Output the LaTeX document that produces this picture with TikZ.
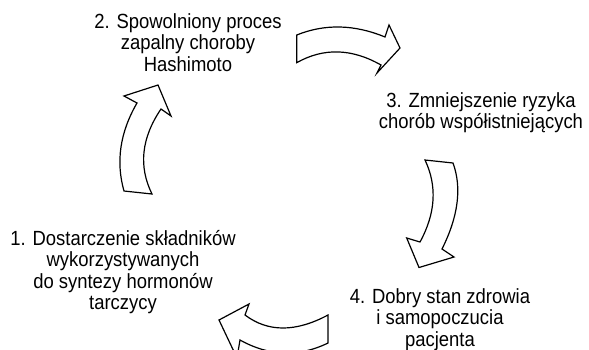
\documentclass[tikz,border=0pt]{standalone}
\usepackage{fontspec}
\setmainfont{Liberation Sans}[FakeStretch=0.9]
\usepackage{tikz}
\usetikzlibrary{calc}
\tikzset{
    stagetext/.style={
        align=center,
        anchor=north,
        inner sep=0pt,
        black,
        font=\fontsize{20.5}{21.5}\selectfont
    },
    % blokowa strzałka cyklu
    cyclearrow/.style={
        line width=1.2pt,
        black,
        fill=white,
        line join=miter
    }
}
\begin{document}
\begin{tikzpicture}[x=1pt,y=-1pt]
	\useasboundingbox (0,0) rectangle (589,349);
	\clip (0,0) rectangle (589,349);
	
	\path
	(296.7,35) coordinate (t1)
	(339,18) coordinate (t1c)
	(385,37) coordinate (t2)
	(389,25) coordinate (t3)
	(400,48) coordinate (t4)
	(377,73) coordinate (t5)
	(381,65) coordinate (t6)
	(337,40) coordinate (t6c)
	(296.7,62.7) coordinate (t7)
	
	(425,160) coordinate (r1)
	(453,163) coordinate (r2)
	(466.5,200) coordinate (r2c)
	(442,249) coordinate (r3)
	(454,257) coordinate (r4)
	(419,267.5) coordinate (r5)
	(406.7,238) coordinate (r6)
	(420,242) coordinate (r7)
	(443.5,199) coordinate (r7c)
	
	(328,315) coordinate (b1)
	(279.5,341) coordinate (b1c)
	(245,315) coordinate (b2)
	(249,304) coordinate (b3)
	(219,320) coordinate (b4)
	(237,358) coordinate (b5)
	(240,340) coordinate (b6)
	(284,364.5) coordinate (b6c)
	(328,343) coordinate (b7)
	
	(124,191) coordinate (l1)
	(111.5,147) coordinate (l1c)
	(137,103) coordinate (l2)
	(124,96) coordinate (l3)
	(158,85) coordinate (l4)
	(171,116) coordinate (l5)
	(161,109) coordinate (l6)
	(131.5,152.5) coordinate (l6c)
	(152,194) coordinate (l7);
	
	% strzałki
	\draw[cyclearrow] (t1) .. controls ($(t1)!2/3!(t1c)$) and ($(t2)!2/3!(t1c)$) .. (t2) -- (t3) -- (t4) -- (t5) -- (t6)
		.. controls ($(t6)!2/3!(t6c)$) and ($(t7)!2/3!(t6c)$) .. (t7) -- cycle;
	\draw[cyclearrow] (r1) -- (r2) .. controls ($(r2)!2/3!(r2c)$) and ($(r3)!2/3!(r2c)$) .. (r3) -- (r4) -- (r5) -- (r6) -- (r7)
		.. controls ($(r7)!2/3!(r7c)$) and ($(r1)!2/3!(r7c)$) .. (r1) -- cycle;
	\draw[cyclearrow] (b1) .. controls ($(b1)!2/3!(b1c)$) and ($(b2)!2/3!(b1c)$) .. (b2) -- (b3) -- (b4) -- (b5) -- (b6)
		.. controls ($(b6)!2/3!(b6c)$) and ($(b7)!2/3!(b6c)$) .. (b7) -- cycle;
	\draw[cyclearrow] (l1) .. controls ($(l1)!2/3!(l1c)$) and ($(l2)!2/3!(l1c)$) .. (l2) -- (l3) -- (l4) -- (l5) -- (l6)
		.. controls ($(l6)!2/3!(l6c)$) and ($(l7)!2/3!(l6c)$) .. (l7) -- cycle;
	
	% etapy
	\node[stagetext] (skladniki) at (123,230) {1. Dostarczenie składników\\wykorzystywanych\\do syntezy hormonów\\tarczycy};
	\node[stagetext] (zapalenie) at (188,13) {2. Spowolniony proces\\zapalny choroby\\Hashimoto};
	\node[stagetext] (ryzyko) at (481,92) {3. Zmniejszenie ryzyka\\chorób współistniejących};
	\node[stagetext] (zdrowie) at (440,288) {4. Dobry stan zdrowia\\i samopoczucia\\pacjenta};
\end{tikzpicture}
\end{document}
